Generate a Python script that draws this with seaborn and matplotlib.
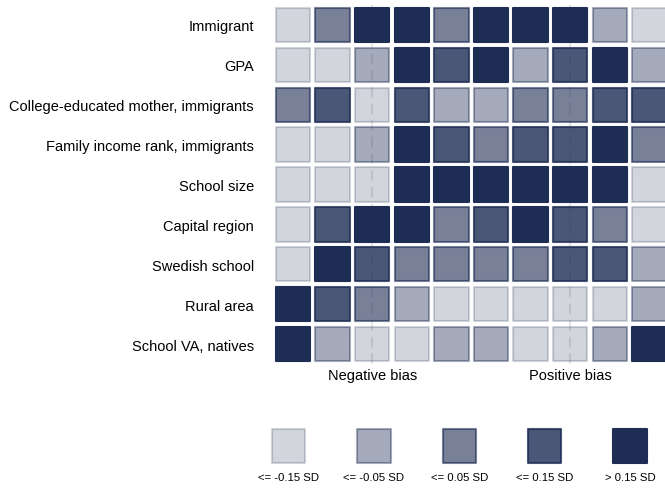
import numpy as np
import pandas as pd
import matplotlib
matplotlib.use("Agg")
import matplotlib.pyplot as plt
import seaborn as sns


# ---------------- DATA ---------------- #

ROW_LABELS = [
    "Immigrant",
    "GPA",
    "College-educated mother, immigrants",
    "Family income rank, immigrants",
    "School size",
    "Capital region",
    "Swedish school",
    "Rural area",
    "School VA, natives",
]

# bias level per cell: 1 = <= -0.15 SD ... 5 = > 0.15 SD
LEVELS = [
    [1, 3, 5, 5, 3, 5, 5, 5, 2, 1],
    [1, 1, 2, 5, 4, 5, 2, 4, 5, 2],
    [3, 4, 1, 4, 2, 2, 3, 3, 4, 4],
    [1, 1, 2, 5, 4, 3, 4, 4, 5, 3],
    [1, 1, 1, 5, 5, 5, 5, 5, 5, 1],
    [1, 4, 5, 5, 3, 4, 5, 4, 3, 1],
    [1, 5, 4, 3, 3, 3, 3, 4, 4, 2],
    [5, 4, 3, 2, 1, 1, 1, 1, 1, 2],
    [5, 2, 1, 1, 2, 2, 1, 1, 2, 5],
]

GROUP_TICKS = [2, 7]
GROUP_LABELS = ["Negative bias", "Positive bias"]

LEGEND_LEVELS = [1, 2, 3, 4, 5]
LEGEND_LABELS = ["<= -0.15 SD", "<= -0.05 SD", "<= 0.05 SD", "<= 0.15 SD", "> 0.15 SD"]
LEVEL_ALPHA = [0.2, 0.4, 0.6, 0.8, 1.0]


# ---------------- STYLE ---------------- #

sns.set_theme(style="white")
plt.rcParams["font.family"] = ["Liberation Sans", "DejaVu Sans"]
plt.rcParams["text.color"] = "black"
plt.rcParams["xtick.color"] = "black"
plt.rcParams["ytick.color"] = "black"

NAVY = (30 / 255, 45 / 255, 84 / 255)
palette = {lv: (*NAVY, a) for lv, a in zip(LEGEND_LEVELS, LEVEL_ALPHA)}

W, H = 665, 489
fig = plt.figure(figsize=(W / 100, H / 100), dpi=100)


def px_axes(left, top, right, bottom):
    return fig.add_axes([left / W, 1 - bottom / H, (right - left) / W, (bottom - top) / H])


# ---------------- MAIN GRID ---------------- #

rows, cols = [], []
for r, row in enumerate(LEVELS):
    for c, v in enumerate(row):
        rows.append(r)
        cols.append(c)
df = pd.DataFrame({"row": rows, "col": cols,
                   "level": [v for row in LEVELS for v in row]})

ax = px_axes(273.2, 6, 669.2, 365)

for xv in GROUP_TICKS:
    ax.axvline(xv, color="#e6e6e6", lw=1.5, ls=(0, (5, 3)), zorder=0)

sns.scatterplot(data=df, x="col", y="row", hue="level", palette=palette,
                marker="s", s=610, linewidth=1.5, legend=False, ax=ax, zorder=2)
pts = ax.collections[-1]
pts.set_edgecolors(pts.get_facecolors())

ax.set_xlim(-0.5, 9.5)
ax.set_ylim(8.5, -0.5)
ax.set_yticks(range(len(ROW_LABELS)))
ax.set_yticklabels(ROW_LABELS, fontsize=10.5)
ax.set_xticks(GROUP_TICKS)
ax.set_xticklabels(GROUP_LABELS, fontsize=10.5)
ax.tick_params(axis="y", length=0, pad=14)
ax.tick_params(axis="x", length=0, pad=3)
ax.set_xlabel("")
ax.set_ylabel("")
sns.despine(ax=ax, left=True, bottom=True)


# ---------------- LEGEND ---------------- #

lg = px_axes(245.8, 428, 672.8, 466)
leg_df = pd.DataFrame({"x": range(len(LEGEND_LEVELS)), "y": 0, "level": LEGEND_LEVELS})
sns.scatterplot(data=leg_df, x="x", y="y", hue="level", palette=palette,
                marker="s", s=580, linewidth=1.5, legend=False, ax=lg)
lpts = lg.collections[-1]
lpts.set_edgecolors(lpts.get_facecolors())

lg.set_xlim(-0.5, 4.5)
lg.set_ylim(-0.5, 0.5)
lg.set_xticks(range(len(LEGEND_LABELS)))
lg.set_xticklabels(LEGEND_LABELS, fontsize=8.2)
lg.set_yticks([])
lg.tick_params(axis="x", length=0, pad=5)
lg.set_xlabel("")
lg.set_ylabel("")
sns.despine(ax=lg, left=True, bottom=True)

fig.savefig("out.png", dpi=100)
